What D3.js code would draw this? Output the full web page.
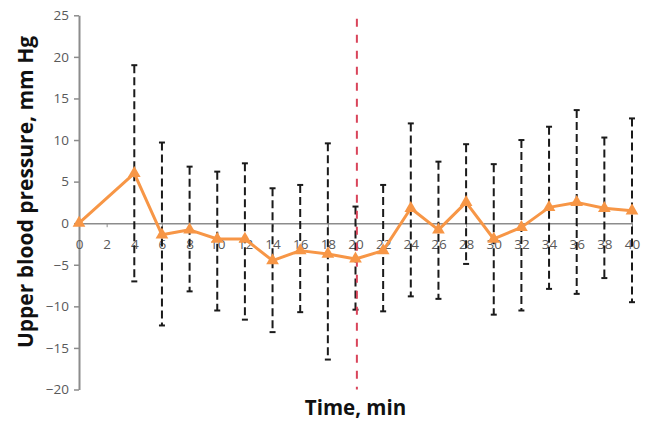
<!DOCTYPE html>
<html>
<head>
<meta charset="utf-8">
<script src="https://cdn.jsdelivr.net/npm/d3@7"></script>
<style>
  html, body { margin: 0; padding: 0; background: #fff; }
  svg { display: block; }
</style>
</head>
<body>
<svg id="chart" width="648" height="421"></svg>
<script>
// time points (min)
const times = [0, 4, 6, 8, 10, 12, 14, 16, 18, 20, 22, 24, 26, 28, 30, 32, 34, 36, 38, 40];
// mean change in upper blood pressure, mm Hg
const means = [0, 6.0, -1.4, -0.8, -1.9, -1.9, -4.5, -3.3, -3.7, -4.3, -3.3, 1.8, -0.8, 2.5, -1.9, -0.5, 1.9, 2.5, 1.8, 1.5];
// error bar ends (null = no bar)
const upperEnds = [null, 19.0, 9.7, 6.8, 6.2, 7.2, 4.2, 4.6, 9.6, 2.0, 4.6, 12.0, 7.4, 9.5, 7.1, 10.0, 11.6, 13.6, 10.3, 12.6];
const lowerEnds = [null, -7.0, -12.3, -8.2, -10.5, -11.6, -13.1, -10.7, -16.4, -10.4, -10.6, -8.8, -9.1, -4.9, -11.0, -10.5, -7.9, -8.5, -6.6, -9.5];
const xTicks = d3.range(0, 41, 2);
const yTicks = d3.range(-20, 26, 5);
const markerTime = 20.1; // red dashed reference line

const svg = d3.select('#chart');
const x = d3.scaleLinear().domain([0, 40]).range([79, 632]);
const y = d3.scaleLinear().domain([-20, 25]).range([389.5, 15.3]);

const data = times.map((t, i) => ({ t, m: means[i], hi: upperEnds[i], lo: lowerEnds[i] }));

// y axis
const yAxis = svg.append('g')
  .attr('transform', `translate(${x(0)},0)`)
  .call(d3.axisLeft(y).tickValues(yTicks).tickSize(5).tickPadding(5).tickSizeOuter(0));
yAxis.select('.domain').attr('stroke', '#8c8c8c').attr('stroke-width', 2);
yAxis.selectAll('.tick line').attr('stroke', '#8c8c8c').attr('stroke-width', 1.5);
yAxis.selectAll('.tick text')
  .attr('fill', '#595959')
  .style('font', '13.5px "Open Sans", sans-serif');

// x axis at zero
const xAxis = svg.append('g')
  .attr('transform', `translate(0,${y(0)})`)
  .call(d3.axisBottom(x).tickValues(xTicks).tickSize(4).tickPadding(12).tickSizeOuter(0));
xAxis.select('.domain').attr('stroke', '#8c8c8c').attr('stroke-width', 1.5);
xAxis.selectAll('.tick line').attr('stroke', '#8c8c8c').attr('stroke-width', 1);
xAxis.selectAll('.tick text')
  .attr('fill', '#595959')
  .style('font', '13.5px "Open Sans", sans-serif');

// error bars
const bars = data.filter(d => d.hi !== null);
const eb = svg.append('g').attr('stroke', '#1a1a1a').attr('stroke-width', 2);
eb.selectAll('line.bar').data(bars).join('line')
  .attr('class', 'bar')
  .attr('x1', d => x(d.t)).attr('x2', d => x(d.t))
  .attr('y1', d => y(d.hi)).attr('y2', d => y(d.lo))
  .attr('stroke-dasharray', '8,4');
eb.selectAll('line.capHi').data(bars).join('line')
  .attr('class', 'capHi')
  .attr('x1', d => x(d.t) - 3).attr('x2', d => x(d.t) + 3)
  .attr('y1', d => y(d.hi)).attr('y2', d => y(d.hi));
eb.selectAll('line.capLo').data(bars).join('line')
  .attr('class', 'capLo')
  .attr('x1', d => x(d.t) - 3).attr('x2', d => x(d.t) + 3)
  .attr('y1', d => y(d.lo)).attr('y2', d => y(d.lo));

// red dashed line
svg.append('line')
  .attr('x1', x(markerTime)).attr('x2', x(markerTime))
  .attr('y1', y(24.6)).attr('y2', y(-20))
  .attr('stroke', '#d9445a')
  .attr('stroke-width', 2)
  .attr('stroke-dasharray', '8,8');

// mean line
const line = d3.line().x(d => x(d.t)).y(d => y(d.m));
svg.append('path')
  .datum(data)
  .attr('fill', 'none')
  .attr('stroke', '#f79646')
  .attr('stroke-width', 3)
  .attr('stroke-linejoin', 'round')
  .attr('d', line);

svg.append('g').selectAll('path').data(data).join('path')
  .attr('transform', d => `translate(${x(d.t)},${y(d.m)})`)
  .attr('d', d3.symbol(d3.symbolTriangle, 70))
  .attr('fill', '#f79646');

// axis titles
svg.append('text')
  .attr('transform', `translate(25,192) rotate(-90)`)
  .attr('text-anchor', 'middle')
  .attr('dominant-baseline', 'central')
  .style('font', 'bold 21px "Open Sans", sans-serif')
  .attr('fill', '#111')
  .text('Upper blood pressure, mm Hg');

svg.append('text')
  .attr('x', (x(0) + x(40)) / 2)
  .attr('y', 407)
  .attr('text-anchor', 'middle')
  .attr('dominant-baseline', 'central')
  .style('font', 'bold 20.5px "Open Sans", sans-serif')
  .attr('fill', '#111')
  .text('Time, min');
</script>
</body>
</html>
